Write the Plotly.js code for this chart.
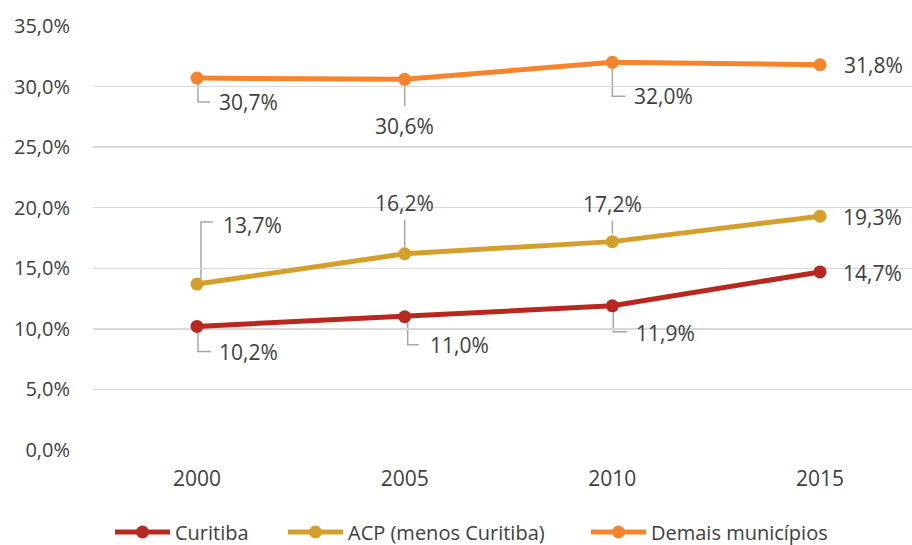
<!DOCTYPE html>
<html>
<head>
<meta charset="utf-8">
<script src="https://cdn.plot.ly/plotly-3.0.1.min.js"></script>
<style>html,body{margin:0;padding:0;background:#fff;}#chart{width:912px;height:545px;}</style>
</head>
<body>
<div id="chart"></div>
<script>
// ---- data ----
var years = [2000, 2005, 2010, 2015];
var seriesNames = ['Curitiba', 'ACP (menos Curitiba)', 'Demais municípios'];
var curitiba = [10.2, 11.0, 11.9, 14.7];
var acp = [13.7, 16.2, 17.2, 19.3];
var demais = [30.7, 30.6, 32.0, 31.8];
var yTicks = [0, 5, 10, 15, 20, 25, 30, 35];

// ---- styles ----
var colors = ['#B7291F', '#D4A02B', '#F5842E'];
var FONT = 'Open Sans, Noto Sans, sans-serif';
var TXT = '#404040';
var LEAD = '#A6A6A6';

function fmt(v) { return v.toFixed(1).replace('.', ',') + '%'; }

var seriesData = [curitiba, acp, demais];
var legendIds = ['legend', 'legend2', 'legend3'];
var traces = seriesData.map(function (vals, i) {
  return {
    x: years, y: vals, type: 'scatter', mode: 'lines+markers',
    name: seriesNames[i],
    line: {color: colors[i], width: 5},
    marker: {color: colors[i], size: 13},
    hoverinfo: 'skip',
    legend: legendIds[i]
  };
});

// label placement per series/point: [xanchor, xshift, yshift]
var labelPos = [
  [['left', 20, -26], ['left', 23, -28], ['left', 22, -27], ['left', 21, -1]],
  [['left', 24, 59], ['center', 0, 51], ['center', 0, 38], ['left', 21, -1]],
  [['left', 20, -24], ['center', 0, -47], ['left', 20, -34], ['left', 22, 0]]
];
// leader line paths in pixels relative to point (y up positive)
var leaderPaths = [
  ['M1,-6 L1,-25 L14,-25', 'M3,-4 L3,-28 L14,-28', 'M1,-2 L1,-26 L15,-26', null],
  ['M4,5 L4,62 L16,62', 'M0,6 L0,34', 'M0,8 L0,21', null],
  ['M1,-4 L1,-24 L13,-24', 'M0,-3 L0,-27', 'M0,-5 L0,-34 L13,-34', null]
];

var annotations = [];
var shapes = [];
seriesData.forEach(function (vals, i) {
  vals.forEach(function (v, j) {
    var p = labelPos[i][j];
    annotations.push({
      x: years[j], y: v, xref: 'x', yref: 'y', text: fmt(v), showarrow: false,
      xanchor: p[0], yanchor: 'middle', xshift: p[1], yshift: p[2],
      font: {family: FONT, size: 21, color: TXT}
    });
    if (leaderPaths[i][j]) {
      shapes.push({
        type: 'path', xref: 'x', yref: 'y', xsizemode: 'pixel', ysizemode: 'pixel',
        xanchor: years[j], yanchor: v, path: leaderPaths[i][j],
        line: {color: LEAD, width: 1.5}, layer: 'below'
      });
    }
  });
});

var legendBase = {
  orientation: 'h', xref: 'container', yref: 'container', yanchor: 'middle', xanchor: 'left',
  y: 1 - 532 / 545, bgcolor: 'rgba(0,0,0,0)', borderwidth: 0, itemwidth: 55,
  font: {family: FONT, size: 20, color: TXT}, itemclick: false, itemdoubleclick: false
};
function leg(xpx) { var o = JSON.parse(JSON.stringify(legendBase)); o.x = xpx / 912; return o; }

var layout = {
  width: 912, height: 545,
  margin: {l: 93, r: 0, t: 26, b: 95},
  paper_bgcolor: '#fff', plot_bgcolor: '#fff',
  showlegend: true,
  legend: leg(110), legend2: leg(283), legend3: leg(586),
  xaxis: {
    range: [1997.496, 2017.215], tickvals: years, ticktext: years.map(String),
    showgrid: false, zeroline: false, showline: false, ticks: '',
    ticklabelstandoff: 14,
    tickfont: {family: FONT, size: 21, color: TXT}
  },
  yaxis: {
    range: [0, 35], tickvals: yTicks, ticktext: yTicks.map(fmt),
    showgrid: true, gridcolor: '#D9D9D9', gridwidth: 1.5, zeroline: false, showline: false,
    ticks: '', ticklabelstandoff: 22,
    tickfont: {family: FONT, size: 20, color: TXT}
  },
  annotations: annotations,
  shapes: shapes,
  hovermode: false
};

Plotly.newPlot('chart', traces, layout, {displayModeBar: false, staticPlot: true});
</script>
</body>
</html>
